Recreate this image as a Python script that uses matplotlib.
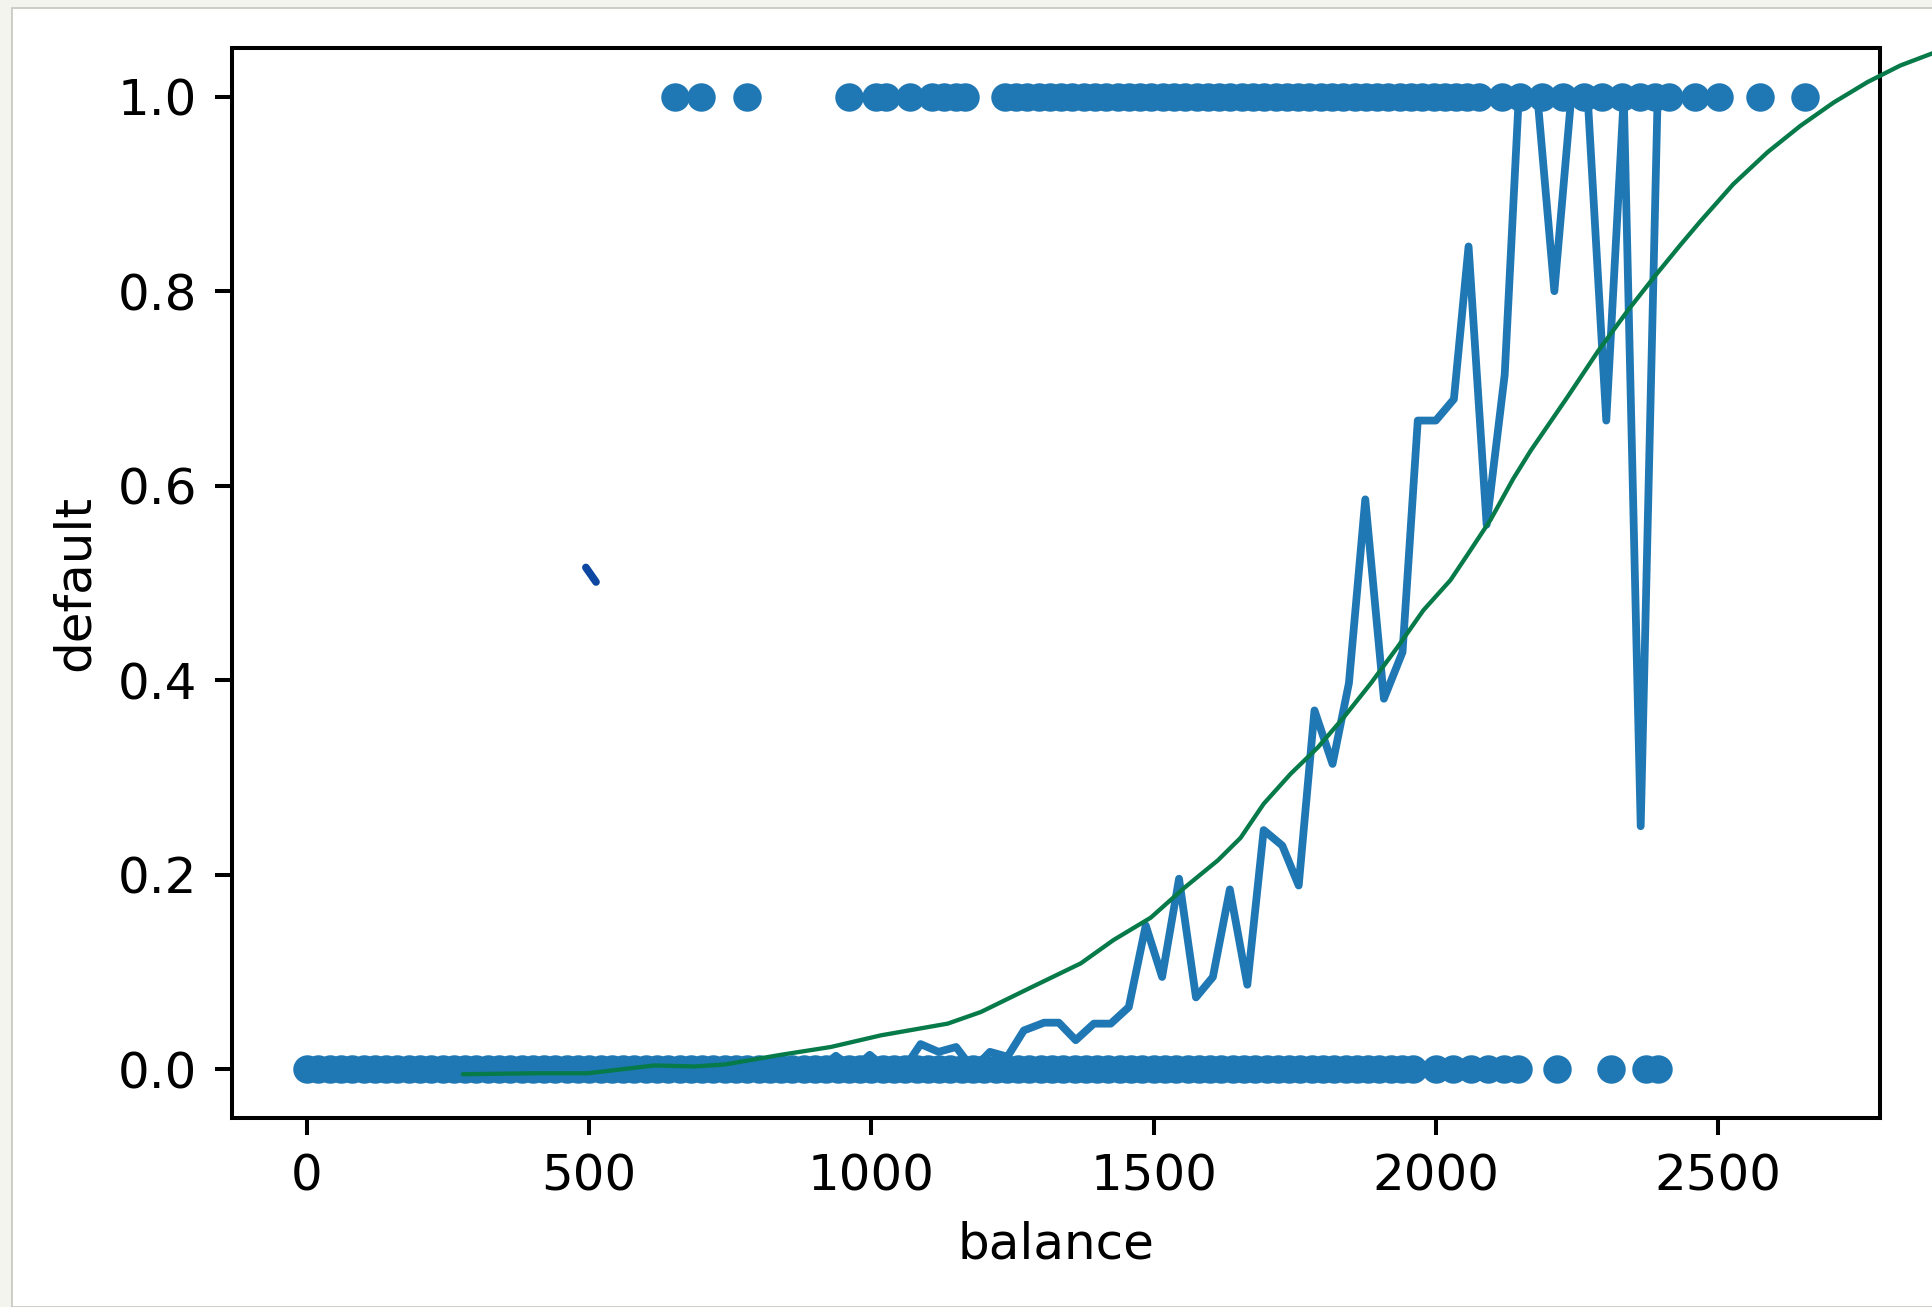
import matplotlib

matplotlib.use("Agg")

import matplotlib.pyplot as plt
from matplotlib.patches import Rectangle

# accounts that did not default (default = 0), by balance
balance_no_default = [
    0, 20, 40, 60, 80, 100, 120, 140, 160, 180, 200, 220, 240, 260, 280, 300, 320, 340, 360, 380,
    400, 420, 440, 460, 480, 500, 520, 540, 560, 580, 600, 620, 640, 660, 680, 700, 720, 740, 760, 780,
    800, 820, 840, 860, 880, 900, 920, 940, 960, 980, 1000, 1020, 1040, 1060, 1080, 1100, 1120, 1140, 1160, 1180,
    1200, 1220, 1240, 1260, 1280, 1300, 1320, 1340, 1360, 1380, 1400, 1420, 1440, 1460, 1480, 1500, 1520, 1540, 1560, 1580,
    1600, 1620, 1640, 1660, 1680, 1700, 1720, 1740, 1760, 1780, 1800, 1820, 1840, 1860, 1880, 1900, 1920, 1940, 1960,
    2000, 2030, 2062, 2092, 2120, 2145, 2214, 2310, 2372, 2393,
]

# accounts that defaulted (default = 1), by balance
balance_default = [
    652, 698, 779, 960, 1008, 1026, 1068, 1107, 1128, 1150, 1165,
    1236, 1256, 1276, 1296, 1316, 1336, 1356, 1376, 1396, 1416, 1436, 1456, 1476, 1496, 1516, 1536, 1556, 1576,
    1596, 1616, 1636, 1656, 1676, 1696, 1716, 1736, 1756, 1776, 1796, 1816, 1836, 1856, 1876, 1896, 1916, 1936,
    1956, 1976, 1996, 2016, 2036, 2056, 2076,
    2118, 2150, 2189, 2225, 2262, 2294, 2329, 2361, 2389, 2414, 2459, 2501, 2575, 2654,
]

# share of defaulters per balance bin
bin_balance = [
    0, 907, 937, 968, 997, 1027, 1057, 1087, 1119, 1150, 1180, 1210, 1241, 1270, 1306, 1332, 1362,
    1394, 1424, 1456, 1486, 1515, 1545, 1575, 1605, 1635, 1666, 1695, 1728, 1757, 1785, 1817, 1846,
    1875, 1908, 1941, 1968, 2000, 2032, 2058, 2090, 2122, 2147, 2180, 2210, 2240, 2269, 2302, 2333,
    2363, 2393,
]
bin_default_rate = [
    0, 0, 0.014, 0, 0.015, 0, 0, 0.026, 0.018, 0.023, 0, 0.018, 0.013, 0.040, 0.048, 0.048, 0.030,
    0.047, 0.047, 0.064, 0.148, 0.095, 0.196, 0.074, 0.095, 0.185, 0.087, 0.246, 0.230, 0.189, 0.369,
    0.314, 0.397, 0.586, 0.381, 0.429, 0.667, 0.667, 0.689, 0.846, 0.560, 0.714, 1.0, 1.0, 0.80, 1.0,
    1.0, 0.667, 1.0, 0.25, 1.0,
]

# hand-drawn trend curve (runs past the right edge of the axes)
trend_balance = [
    276, 407, 498, 615, 687, 740, 840, 928, 1017, 1135, 1194, 1282, 1371, 1429, 1495, 1553, 1614,
    1654, 1695, 1743, 1791, 1837, 1885, 1932, 1978, 2026, 2056, 2097, 2137, 2168, 2233, 2287, 2340,
    2386, 2434, 2469, 2527, 2588, 2646, 2705, 2765, 2823, 2882,
]
trend_default = [
    -0.005, -0.004, -0.004, 0.004, 0.003, 0.005, 0.015, 0.023, 0.035, 0.047, 0.059, 0.084, 0.109,
    0.133, 0.156, 0.186, 0.215, 0.238, 0.273, 0.304, 0.331, 0.362, 0.397, 0.434, 0.472, 0.503, 0.529,
    0.565, 0.607, 0.636, 0.691, 0.738, 0.780, 0.814, 0.848, 0.872, 0.910, 0.943, 0.970, 0.994, 1.015,
    1.032, 1.045,
]

# small stray pen stroke
mark_balance = [494, 512]
mark_default = [0.516, 0.501]

W, H = 1933, 1307
fig = plt.figure(figsize=(W / 100, H / 100), dpi=100, facecolor="#f4f4ef")
fig.patches.append(
    Rectangle(
        (12 / W, 0), 1, (H - 8) / H,
        transform=fig.transFigure, facecolor="white",
        edgecolor="#c6c6bf", linewidth=1.2, zorder=-10,
    )
)

ax = fig.add_axes([232 / W, (H - 1118) / H, (1880 - 232) / W, (1118 - 48) / H])
ax.set_facecolor("white")

ax.scatter(balance_no_default, [0] * len(balance_no_default), s=420, color="#1f77b4", linewidths=0)
ax.scatter(balance_default, [1] * len(balance_default), s=420, color="#1f77b4", linewidths=0)
ax.plot(bin_balance, bin_default_rate, color="#1f77b4", lw=5.6)
ax.plot(trend_balance, trend_default, color="#077a4a", lw=3.1, clip_on=False, zorder=4,
        solid_joinstyle="round", solid_capstyle="round")
ax.plot(mark_balance, mark_default, color="#0d47a1", lw=5.5, solid_capstyle="round", zorder=4)

ax.set_xlim(-133, 2787)
ax.set_ylim(-0.05, 1.05)
ax.set_xticks([0, 500, 1000, 1500, 2000, 2500])
ax.set_yticks([0.0, 0.2, 0.4, 0.6, 0.8, 1.0])
ax.set_yticklabels(["0.0", "0.2", "0.4", "0.6", "0.8", "1.0"])

ax.tick_params(labelsize=36, length=12.5, width=2.9, pad=12.5)
for spine in ax.spines.values():
    spine.set_linewidth(2.9)

ax.set_xlabel("balance", fontsize=36, labelpad=14)
ax.set_ylabel("default", fontsize=36, labelpad=14)

fig.savefig("out.png", dpi=100, facecolor=fig.get_facecolor())
